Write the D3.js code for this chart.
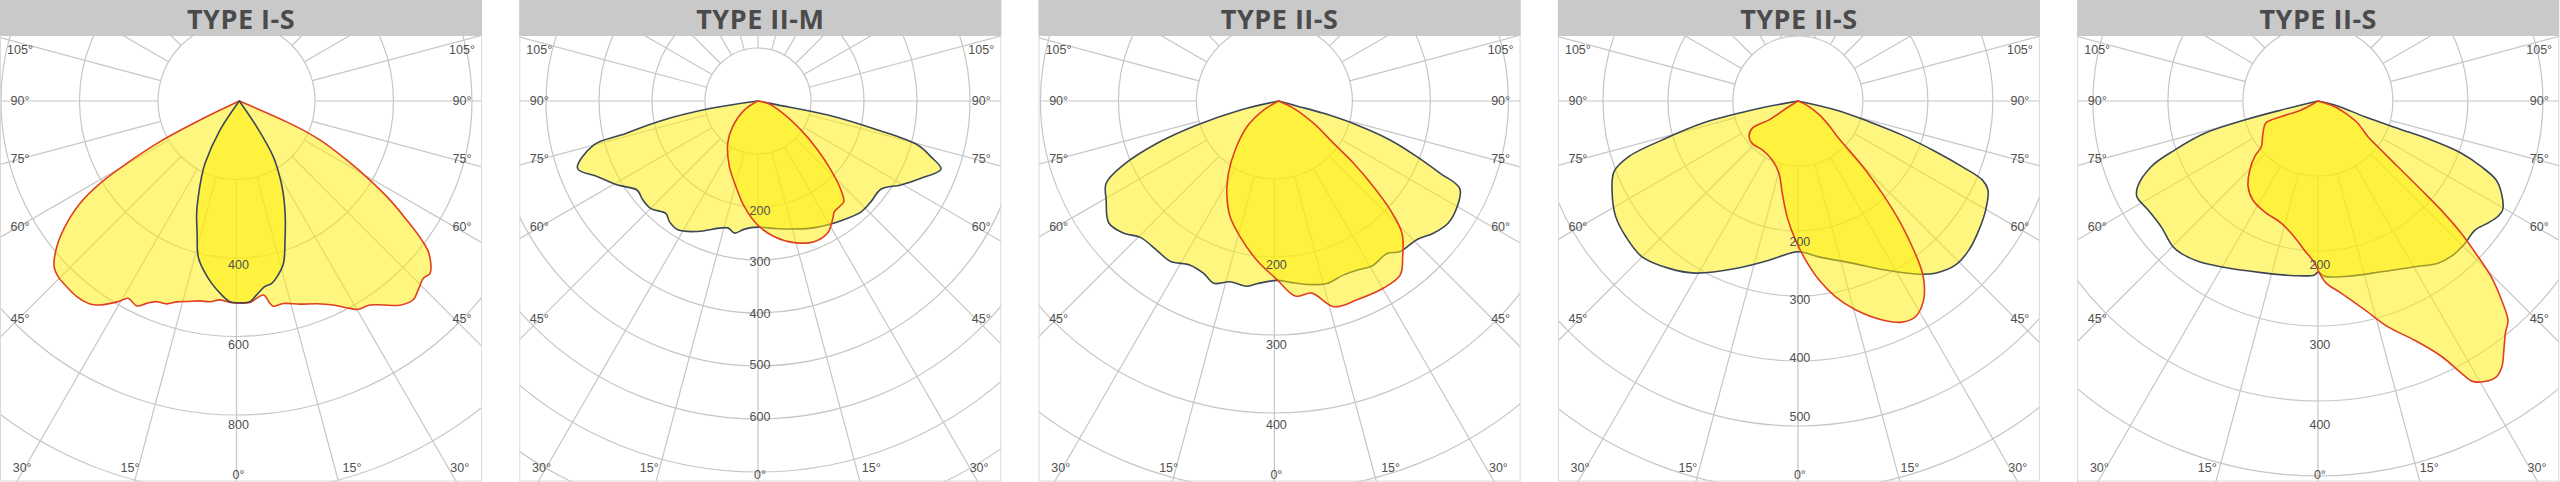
<!DOCTYPE html>
<html><head><meta charset="utf-8">
<script src="https://cdn.jsdelivr.net/npm/d3@7"></script>
<style>html,body{margin:0;padding:0;background:#fff;} svg{display:block;}</style>
</head><body>
<svg id="chart" width="2560" height="482"></svg>
<script>
// ================= DATA =================
const titles = ["TYPE I-S", "TYPE II-M", "TYPE II-S", "TYPE II-S", "TYPE II-S"];

// ring (candela) values of each diagram
const rings1 = [200, 400, 600, 800, 1000, 1200];
const rings2 = [100, 200, 300, 400, 500, 600, 700, 800, 900];
const rings3 = [100, 200, 300, 400, 500, 600];
const rings4 = [100, 200, 300, 400, 500, 600, 700];
const rings5 = [100, 200, 300, 400, 500, 600];

// intensity tick labels drawn along the 0° axis
const ticks1 = [400, 600, 800];
const ticks2 = [200, 300, 400, 500, 600];
const ticks3 = [200, 300, 400];
const ticks4 = [200, 300, 400, 500];
const ticks5 = [200, 300, 400];

// angle labels (degrees from nadir)
const angleTicks = [0, 15, 30, 45, 60, 75, 90, 105];

// curves: [angle from nadir in degrees (negative = left), intensity cd]
const typeIS_red = [[-65,0],[-64.2,111],[-62.9,227],[-61,328],[-59.4,412],[-57.3,482],[-54.2,548],[-51.4,595],[-48.2,633],[-45.9,643],[-42.9,646],[-39.7,648],[-36.3,642],[-34.3,629],[-31.1,597],[-29.4,577],[-26.6,584],[-24.6,567],[-22.4,553],[-19.7,549],[-17.3,536],[-14.7,528],[-11.1,519],[-8.3,517],[-5.5,509],[-2.6,514],[0,515],[3,514],[7.1,498],[8.6,521],[9.4,530],[12.3,528],[16.6,540],[20.9,553],[24.7,572],[28.1,599],[29.7,611],[32.6,617],[35.2,636],[38.2,662],[41.2,673],[43.4,663],[46.1,651],[47.9,655],[51.2,620],[52.7,584],[54.6,523],[56.7,459],[58.8,389],[61.2,312],[64.2,228],[66,151],[66,0]];
const typeIS_dark = [[-35,0],[-33.6,89],[-28.8,181],[-26.5,215],[-23.4,262],[-20.8,306],[-17.9,350],[-14.8,410],[-12,440],[-8.6,470],[-5.2,496],[-2.7,512],[0,514],[3,512],[5.1,496],[7.9,477],[10.1,472],[12.6,454],[15.2,429],[18.2,373],[21.8,315],[25.8,255],[29,205],[31.4,166],[34,79],[35,0]];

const typeIIM_dark = [[-82,0],[-81.1,89],[-78.5,186],[-76,266],[-75,320],[-69.5,363],[-64.7,334],[-59,308],[-53.6,283],[-49.3,286],[-44.8,286],[-39.2,274],[-36.2,282],[-31.8,286],[-24.7,271],[-13.3,246],[-10,253],[-5.9,243],[0,238],[8.9,244],[22.7,260],[30.8,270],[36.2,277],[43,286],[48.4,286],[54.4,286],[59.6,313],[64.7,341],[69.6,369],[72.2,343],[74.6,313],[76.4,233],[78.7,135],[79,38],[80,0]];
const typeIIM_red = [[-60,0],[-56,30],[-44.2,68],[-35.3,98],[-23.3,135],[-14.2,167],[-7.2,201],[0,234],[7,258],[14.5,276],[21.9,286],[27.9,282],[32.2,265],[34.7,254],[37.7,252],[40.5,250],[43.1,230],[46.7,190],[50.8,146],[56.2,98],[65.4,48],[76.9,19],[78,0]];

const typeIIS1_dark = [[-78,0],[-76.8,50],[-73.6,109],[-70.8,165],[-67.6,215],[-64.5,245],[-60.1,255],[-54.3,268],[-49.5,261],[-45.4,249],[-39.2,247],[-34.1,248],[-28.3,239],[-23.5,241],[-19.6,248],[-15,240],[-9.9,241],[-6.8,236],[-0.5,230],[3.7,233],[8.8,238],[14.8,242],[20.5,238],[24.9,239],[29.5,243],[35.4,240],[38.9,248],[44.9,251],[49.5,261],[54.3,268],[59.4,266],[64.2,258],[65.9,227],[68.1,191],[70.7,152],[73,105],[74.7,60],[74.7,24],[75,0]];
const typeIIS1_red = [[-60,0],[-59,22],[-51,52],[-41.5,84],[-34.7,113],[-29.2,136],[-22.7,161],[-15.8,181],[-7.8,206],[-0.5,229],[4.9,251],[9.8,250],[15,273],[21.5,274],[29.3,275],[35,272],[38.6,255],[43,232],[45.7,200],[47.9,164],[50.3,125],[52.4,89],[57.5,53],[64,21],[65,0]];

const typeIIS2_dark = [[-80,0],[-78.9,72],[-76.9,151],[-74,217],[-71.8,274],[-69,303],[-63.6,319],[-57.6,332],[-51.8,337],[-45,339],[-37.6,325],[-30.7,308],[-20.4,275],[-10.3,249],[0,232],[7.7,242],[18.5,263],[27.4,293],[34.9,325],[38.6,339],[43.9,350],[48.9,349],[54.5,342],[59.9,334],[64.9,323],[66.8,309],[68.2,272],[69.8,226],[71.9,169],[73.8,114],[76.6,60],[78,0]];
const typeIIS2_red = [[-58,0],[-57.8,16],[-56.8,53],[-59.1,82],[-53.9,93],[-47.2,96],[-36,93],[-23.5,99],[-14.7,115],[-9.6,144],[-5.3,179],[-1,214],[2.8,245],[6.7,277],[10.9,307],[15.4,333],[21.1,361],[25.2,376],[28.6,378],[32.3,362],[35.1,337],[36.5,317],[38.1,285],[40.3,240],[42.4,192],[44.4,149],[46.1,109],[47.8,82],[50.7,66],[57,40],[65,15],[68,0]];

const typeIIS3_dark = [[-78,0],[-76.2,50],[-75.5,101],[-74.1,157],[-71.1,202],[-68.5,239],[-64.6,266],[-62.1,273],[-57.3,269],[-51.3,268],[-44.9,274],[-41.9,273],[-36.8,267],[-30.3,256],[-18.3,241],[-7.6,235],[-1.1,232],[0,228],[2.2,234],[9.7,237],[20.4,243],[30.3,256],[36.5,269],[40.6,273],[45.9,273],[50.5,271],[54.3,279],[57.3,285],[59.5,286],[63.3,274],[66.1,260],[68.1,235],[70,203],[71,160],[71.1,113],[71.4,66],[76,27],[77,0]];
const typeIIS3_red = [[-60,0],[-61.6,25],[-66.9,53],[-67.2,75],[-59.5,85],[-51.1,97],[-48.7,112],[-44.7,129],[-39.3,147],[-33.3,158],[-25.7,164],[-16.7,170],[-9.8,184],[-5.1,200],[-1.2,216],[0.6,230],[2.6,243],[6.9,258],[12.6,285],[17.2,315],[22,344],[25.8,378],[27.8,410],[28.9,427],[30.7,435],[32.9,438],[34.7,431],[36.8,414],[38.9,398],[40.9,387],[42.7,361],[44.6,329],[45.8,298],[47.3,260],[48.5,219],[49.3,182],[50.6,138],[52.7,100],[54.5,82],[60.8,61],[65,44],[71.2,23],[72,0]];

// ================= LAYOUT =================
const W = 2560, H = 482;
const PANEL_W = 482, PANEL_STEP = 519.3, TITLE_H = 36, CY = 101;
const RED = "#df3f22", DARK = "#3c4657";

const panels = [
  {title: titles[0], rings: rings1, ticks: ticks1, curves: [[typeIS_red, RED], [typeIS_dark, DARK]],
   gridX: 236.5, curveX: 239.3, pxPerRing: 78.5, tickR: [164, 324]},
  {title: titles[1], rings: rings2, ticks: ticks2, curves: [[typeIIM_dark, DARK], [typeIIM_red, RED]],
   gridX: 238.7, curveX: 238.4, pxPerRing: 53, tickR: [109.7, 315.7]},
  {title: titles[2], rings: rings3, ticks: ticks3, curves: [[typeIIS1_dark, DARK], [typeIIS1_red, RED]],
   gridX: 235.8, curveX: 240, pxPerRing: 78, tickR: [164, 324]},
  {title: titles[3], rings: rings4, ticks: ticks4, curves: [[typeIIS2_dark, DARK], [typeIIS2_red, RED]],
   gridX: 240, curveX: 240, pxPerRing: 65, tickR: [140.7, 315.7]},
  {title: titles[4], rings: rings5, ticks: ticks5, curves: [[typeIIS3_dark, DARK], [typeIIS3_red, RED]],
   gridX: 240.7, curveX: 240.7, pxPerRing: 75, tickR: [164, 324]}
];

const svg = d3.select("#chart");
const defs = svg.append("defs");
const rad = d => d * Math.PI / 180;

panels.forEach((p, i) => {
  const x0 = i * PANEL_STEP;
  const g = svg.append("g").attr("transform", `translate(${x0},0)`);
  const clipId = "clip" + i;
  defs.append("clipPath").attr("id", clipId)
    .append("rect").attr("x", 0).attr("y", TITLE_H).attr("width", PANEL_W).attr("height", H - TITLE_H);

  const r = d3.scaleLinear().domain([0, p.rings[0]]).range([0, p.pxPerRing]);
  const r0 = r(p.rings[0]);

  // ---- grid ----
  const grid = g.append("g").attr("clip-path", `url(#${clipId})`)
    .attr("fill", "none").attr("stroke", "#c6c6c6").attr("stroke-width", 1.2);
  grid.selectAll("circle").data(p.rings).join("circle")
    .attr("cx", p.gridX).attr("cy", CY).attr("r", d => r(d));
  grid.selectAll("line").data(d3.range(0, 360, 15)).join("line")
    .attr("x1", a => p.gridX + r0 * Math.sin(rad(a)))
    .attr("y1", a => CY + r0 * Math.cos(rad(a)))
    .attr("x2", a => p.gridX + 900 * Math.sin(rad(a)))
    .attr("y2", a => CY + 900 * Math.cos(rad(a)));

  // ---- curves ----
  const line = d3.lineRadial()
    .angle(d => Math.PI - rad(d[0]))
    .radius(d => r(d[1]))
    .curve(d3.curveCatmullRom.alpha(0.5));
  const cg = g.append("g").attr("transform", `translate(${p.curveX},${CY})`);
  p.curves.forEach(([data, col]) => {
    cg.append("path").attr("d", line(data) + "Z")
      .attr("fill", "#ffee00").attr("fill-opacity", 0.5)
      .attr("stroke", col).attr("stroke-width", 1.6).attr("stroke-linejoin", "round");
  });

  // ---- intensity labels ----
  const tr = d3.scaleLinear().domain([p.ticks[0], p.ticks[p.ticks.length - 1]]).range(p.tickR);
  g.append("g").selectAll("text").data(p.ticks).join("text")
    .attr("x", p.gridX + 2).attr("y", d => CY + tr(d))
    .attr("text-anchor", "middle").attr("dominant-baseline", "central")
    .attr("font-family", "Liberation Sans, Arial, sans-serif").attr("font-size", 12.5)
    .attr("fill", "#505050").text(d => d);

  // ---- angle labels ----
  const lab = g.append("g").attr("font-family", "Liberation Sans, Arial, sans-serif")
    .attr("font-size", 12.5).attr("fill", "#505050");
  const midX = PANEL_W / 2;
  angleTicks.forEach(a => {
    if (a >= 45) {
      const y = Math.max(50, CY + 218 / Math.tan(rad(a)));
      [[-1, 20], [1, PANEL_W - 20]].forEach(([s, x]) => {
        lab.append("text").attr("x", x).attr("y", y).attr("text-anchor", "middle")
          .attr("dominant-baseline", "central").text(a + "°");
      });
    } else if (a === 0) {
      lab.append("text").attr("x", p.gridX + 2).attr("y", 475).attr("text-anchor", "middle")
        .attr("dominant-baseline", "central").text("0°");
    } else {
      const dx = (480 - CY) * Math.tan(rad(a));
      if (a === 15) {
        lab.append("text").attr("x", midX - dx).attr("y", 468).attr("text-anchor", "end")
          .attr("dominant-baseline", "central").text(a + "°");
        lab.append("text").attr("x", midX + dx).attr("y", 468).attr("text-anchor", "start")
          .attr("dominant-baseline", "central").text(a + "°");
      } else {
        lab.append("text").attr("x", Math.max(19, midX - dx)).attr("y", 468).attr("text-anchor", "middle")
          .attr("dominant-baseline", "central").text(a + "°");
        lab.append("text").attr("x", Math.min(PANEL_W - 19, midX + dx)).attr("y", 468).attr("text-anchor", "middle")
          .attr("dominant-baseline", "central").text(a + "°");
      }
    }
  });

  // ---- border + title ----
  g.append("rect").attr("x", 0.5).attr("y", 0.5).attr("width", PANEL_W - 1).attr("height", H - 1.5)
    .attr("fill", "none").attr("stroke", "#dadada").attr("stroke-width", 1);
  g.append("rect").attr("x", 0).attr("y", 0).attr("width", PANEL_W).attr("height", TITLE_H)
    .attr("fill", "#c9c9c9");
  g.append("text").attr("x", PANEL_W / 2).attr("y", 28.5).attr("text-anchor", "middle")
    .attr("font-family", "Open Sans, sans-serif").attr("font-weight", 700)
    .attr("font-size", 27).attr("fill", "#4b4b4b").attr("letter-spacing", 0.5)
    .text(p.title);
});
</script>
</body></html>
